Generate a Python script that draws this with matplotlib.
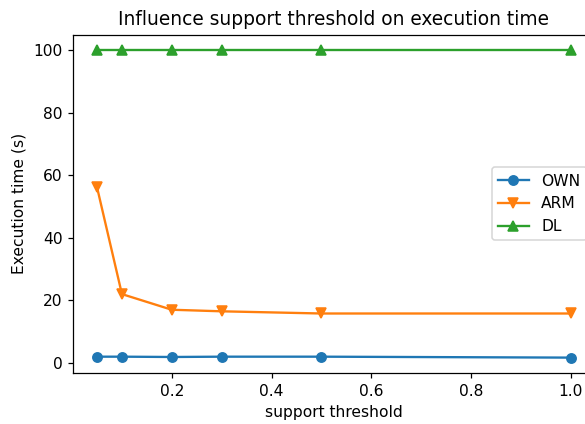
import matplotlib
matplotlib.use('Agg')
import matplotlib.pyplot as plt

# support thresholds and execution times (s)
thresholds = [0.05, 0.1, 0.2, 0.3, 0.5, 1.0]
own_times = [2.0, 2.0, 1.9, 2.0, 2.0, 1.7]
arm_times = [56.2, 22.0, 17.0, 16.5, 15.8, 15.8]
dl_times = [100, 100, 100, 100, 100, 100]

DPI = 112
fig = plt.figure(figsize=(585 / DPI, 424 / DPI), dpi=DPI)
# axes runs a little past the right edge (cropped in the original)
ax = fig.add_axes([0.1253, 0.1203, 0.8908, 0.7979])

ax.plot(thresholds, own_times, marker='o', label='OWN')
ax.plot(thresholds, arm_times, marker='v', label='ARM')
ax.plot(thresholds, dl_times, marker='^', label='DL')

ax.set_title('Influence support threshold on execution time')
ax.set_xlabel('support threshold')
ax.set_ylabel('Execution time (s)')
ax.legend(loc='center right')

plt.savefig('out.png', dpi=DPI)
plt.close()
